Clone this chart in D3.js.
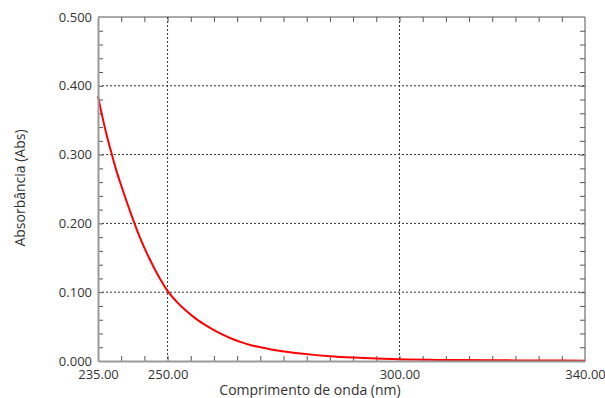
<!DOCTYPE html>
<html>
<head>
<meta charset="utf-8">
<script src="https://cdn.jsdelivr.net/npm/d3@7"></script>
<style>
  body { margin: 0; background: #fff; }
  text { font-family: "Open Sans", "Noto Sans", sans-serif; fill: #333; }
</style>
</head>
<body>
<svg width="605" height="398"></svg>
<script>
// wavelength (nm) and absorbance
var wavelength = [235, 236, 237, 238, 239, 240, 242, 244, 246, 248, 250, 252, 254, 256, 258, 260,
                  262, 264, 266, 268, 270, 273, 276, 280, 285, 290, 295, 300, 310, 320, 330, 340];
var absorbance = [0.385, 0.353, 0.325, 0.300, 0.276, 0.255, 0.216, 0.180, 0.150, 0.124, 0.102,
                  0.086, 0.073, 0.062, 0.053, 0.045, 0.038, 0.032, 0.027, 0.023, 0.020, 0.016,
                  0.013, 0.010, 0.007, 0.005, 0.0035, 0.0025, 0.0015, 0.001, 0.0008, 0.0005];
var xTickLabels = [235, 250, 300, 340];
var yTickLabels = [0, 0.1, 0.2, 0.3, 0.4, 0.5];

var svg = d3.select("svg"),
    margin = {top: 17, right: 20, bottom: 37, left: 98},
    width = svg.attr("width") - margin.left - margin.right,
    height = svg.attr("height") - margin.top - margin.bottom;

var x = d3.scaleLinear().domain([235, 340]).range([0, width]),
    y = d3.scaleLinear().domain([0, 0.5]).range([height, 0]);

var g = svg.append("g")
    .attr("transform", "translate(" + margin.left + "," + margin.top + ")");

// dotted grid at labelled ticks
g.selectAll(".gx")
  .data(xTickLabels.filter(function(d) { return d > 235 && d < 340; }))
  .enter().append("line")
    .attr("x1", function(d) { return x(d); }).attr("x2", function(d) { return x(d); })
    .attr("y1", 0).attr("y2", height)
    .attr("stroke", "#333").attr("stroke-dasharray", "2,2");
g.selectAll(".gy")
  .data(yTickLabels.filter(function(d) { return d > 0 && d < 0.5; }))
  .enter().append("line")
    .attr("x1", 0).attr("x2", width)
    .attr("y1", function(d) { return y(d); }).attr("y2", function(d) { return y(d); })
    .attr("stroke", "#333").attr("stroke-dasharray", "2,2");

// minor ticks, pointing inwards on every side
var xMinor = d3.range(240, 340, 5), yMinor = d3.range(1, 25).map(function(i) { return i * 0.02; });
function minorAxis(axis, sc, vals, tr) {
  g.append("g")
      .attr("transform", tr)
      .call(axis(sc).tickValues(vals).tickSize(-5).tickFormat(""))
      .call(function(s) {
        s.select(".domain").remove();
        s.selectAll("line").attr("stroke", "#555");
      });
}
minorAxis(d3.axisBottom, x, xMinor, "translate(0," + height + ")");
minorAxis(d3.axisTop, x, xMinor, "translate(0,0)");
minorAxis(d3.axisLeft, y, yMinor, "translate(0,0)");
minorAxis(d3.axisRight, y, yMinor, "translate(" + width + ",0)");

// frame
g.append("line").attr("x1", 0).attr("x2", width).attr("y1", 0).attr("y2", 0).attr("stroke", "#555");
g.append("line").attr("x1", width).attr("x2", width).attr("y1", 0).attr("y2", height).attr("stroke", "#555");

// curve
var line = d3.line()
    .x(function(d, i) { return x(wavelength[i]); })
    .y(function(d) { return y(d); })
    .curve(d3.curveMonotoneX);

g.append("path")
    .datum(absorbance)
    .attr("fill", "none")
    .attr("stroke", "#ff0000")
    .attr("stroke-width", 2)
    .attr("d", line);

// labelled axes
g.append("g")
    .attr("transform", "translate(0," + height + ")")
    .call(d3.axisBottom(x).tickValues(xTickLabels).tickSize(0).tickPadding(9).tickFormat(d3.format(".2f")))
    .call(function(s) {
      s.select(".domain").attr("stroke", "#999").attr("stroke-width", 2);
      s.selectAll("text").style("font-size", "13px").attr("fill", "#333");
    });

g.append("g")
    .call(d3.axisLeft(y).tickValues(yTickLabels).tickSize(0).tickPadding(6).tickFormat(d3.format(".3f")))
    .call(function(s) {
      s.select(".domain").attr("stroke", "#999").attr("stroke-width", 2);
      s.selectAll("text").style("font-size", "13px").attr("fill", "#333");
    });

// axis titles
svg.append("text")
    .attr("x", 310)
    .attr("y", 395)
    .attr("text-anchor", "middle")
    .style("font-size", "14px")
    .text("Comprimento de onda (nm)");

svg.append("text")
    .attr("transform", "translate(25,188) rotate(-90)")
    .attr("text-anchor", "middle")
    .style("font-size", "14px")
    .text("Absorbância (Abs)");
</script>
</body>
</html>
